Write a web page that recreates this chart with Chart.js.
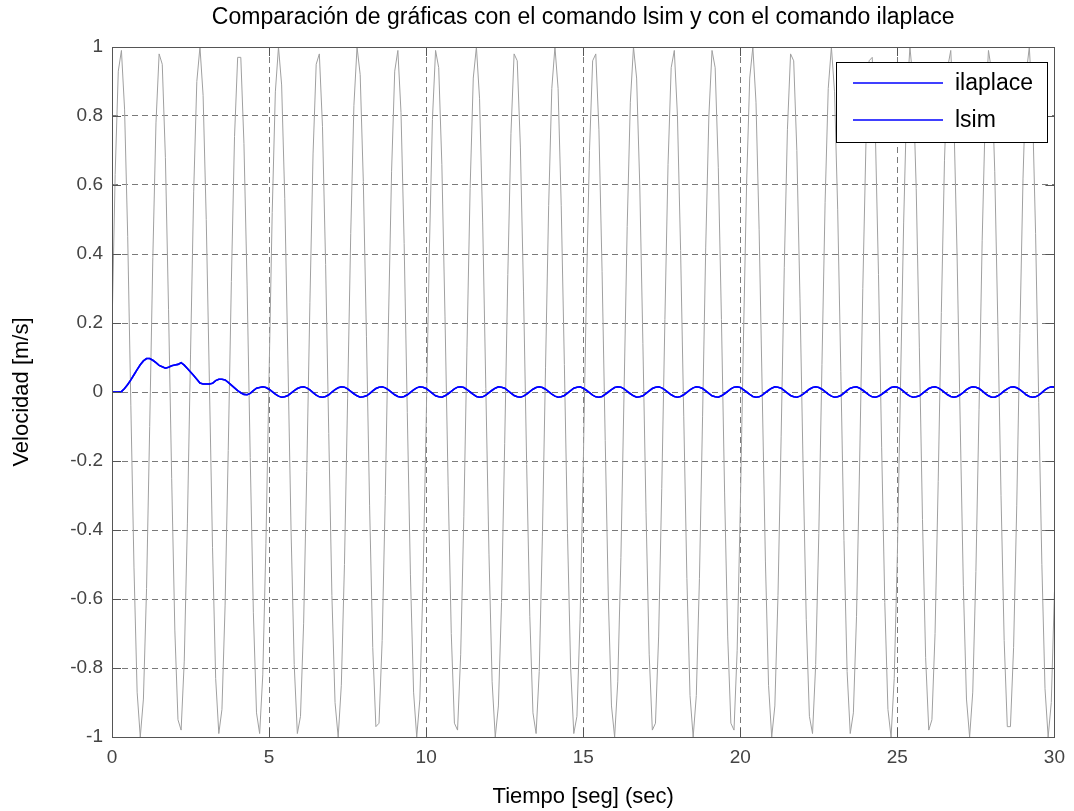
<!DOCTYPE html>
<html>
<head>
<meta charset="utf-8">
<title>Comparación lsim / ilaplace</title>
<script src="https://cdn.jsdelivr.net/npm/chart.js@4.4.1/dist/chart.umd.min.js"></script>
<style>
  html, body { margin: 0; padding: 0; background: #fff; }
  #wrap { position: relative; width: 1074px; height: 811px; }
</style>
</head>
<body>
<div id="wrap"><canvas id="grafica"></canvas></div>
<script>
// --- DATOS ---
const titulo = 'Comparación de gráficas con el comando lsim y con el comando ilaplace';
const ejeX = 'Tiempo [seg] (sec)';
const ejeY = 'Velocidad [m/s]';
const paso = 0.1;                 // muestreo en segundos, t = 0 ... 30
const ticksX = [0, 5, 10, 15, 20, 25, 30];
const ticksY = [-1, -0.8, -0.6, -0.4, -0.2, 0, 0.2, 0.4, 0.6, 0.8, 1];

// entrada (curva gris)
const entrada = [
  0.18, 0.63, 0.93, 0.99, 0.82, 0.45, -0.04, -0.51, -0.87, -1.00,
  -0.89, -0.57, -0.10, 0.39, 0.78, 0.98, 0.95, 0.68, 0.24, -0.25,
  -0.69, -0.95, -0.98, -0.78, -0.38, 0.11, 0.58, 0.90, 1.00, 0.86,
  0.50, 0.03, -0.45, -0.83, -0.99, -0.92, -0.62, -0.17, 0.32, 0.74,
  0.97, 0.97, 0.72, 0.31, -0.19, -0.64, -0.93, -0.99, -0.82, -0.44,
  0.05, 0.52, 0.87, 1.00, 0.89, 0.56, 0.09, -0.40, -0.79, -0.99,
  -0.94, -0.67, -0.23, 0.26, 0.69, 0.95, 0.98, 0.77, 0.37, -0.12,
  -0.59, -0.90, -1.00, -0.85, -0.50, -0.02, 0.46, 0.83, 1.00, 0.92,
  0.61, 0.16, -0.33, -0.74, -0.97, -0.96, -0.72, -0.30, 0.20, 0.64,
  0.93, 0.99, 0.81, 0.43, -0.06, -0.53, -0.87, -1.00, -0.89, -0.55,
  -0.09, 0.40, 0.79, 0.99, 0.94, 0.66, 0.22, -0.27, -0.70, -0.96,
  -0.98, -0.76, -0.36, 0.13, 0.59, 0.91, 1.00, 0.85, 0.49, 0.01,
  -0.47, -0.84, -1.00, -0.91, -0.61, -0.15, 0.34, 0.75, 0.98, 0.96,
  0.71, 0.29, -0.21, -0.65, -0.93, -0.99, -0.81, -0.42, 0.07, 0.54,
  0.88, 1.00, 0.88, 0.54, 0.08, -0.41, -0.80, -0.99, -0.94, -0.66,
  -0.22, 0.28, 0.70, 0.96, 0.98, 0.76, 0.35, -0.14, -0.60, -0.91,
  -1.00, -0.84, -0.48, 0.00, 0.48, 0.84, 1.00, 0.91, 0.60, 0.14,
  -0.35, -0.76, -0.98, -0.96, -0.71, -0.28, 0.21, 0.66, 0.94, 0.99,
  0.80, 0.41, -0.07, -0.54, -0.88, -1.00, -0.88, -0.54, -0.07, 0.42,
  0.80, 0.99, 0.94, 0.65, 0.21, -0.29, -0.71, -0.96, -0.98, -0.75,
  -0.34, 0.15, 0.60, 0.91, 1.00, 0.84, 0.47, -0.01, -0.49, -0.85,
  -1.00, -0.91, -0.59, -0.13, 0.36, 0.76, 0.98, 0.96, 0.70, 0.27,
  -0.22, -0.66, -0.94, -0.99, -0.79, -0.41, 0.08, 0.55, 0.88, 1.00,
  0.87, 0.53, 0.06, -0.43, -0.81, -0.99, -0.93, -0.65, -0.20, 0.30,
  0.72, 0.96, 0.97, 0.75, 0.34, -0.16, -0.61, -0.92, -1.00, -0.83,
  -0.47, 0.02, 0.49, 0.85, 1.00, 0.90, 0.59, 0.13, -0.37, -0.77,
  -0.98, -0.95, -0.70, -0.26, 0.23, 0.67, 0.94, 0.99, 0.79, 0.40,
  -0.09, -0.56, -0.89, -1.00, -0.87, -0.52, -0.05, 0.44, 0.81, 0.99,
  0.93, 0.64, 0.19, -0.30, -0.72, -0.97, -0.97, -0.74, -0.33, 0.17,
  0.62, 0.92, 1.00, 0.83, 0.46, -0.03, -0.50, -0.86, -1.00, -0.90, -0.58
];

// respuesta de velocidad (ilaplace y lsim coinciden)
const velocidad = [
  0, 0, 0, 0.001, 0.010, 0.022, 0.035, 0.050, 0.065, 0.079,
  0.090, 0.097, 0.097, 0.092, 0.085, 0.077, 0.073, 0.069, 0.072, 0.076,
  0.078, 0.080, 0.085, 0.078, 0.068, 0.058, 0.048, 0.037, 0.026, 0.023,
  0.023, 0.023, 0.025, 0.033, 0.037, 0.037, 0.035, 0.028, 0.020, 0.012,
  0.004, -0.002, -0.007, -0.008, -0.004, 0.004, 0.011, 0.013, 0.015, 0.013,
  0.008, 0.001, -0.006, -0.012, -0.015, -0.014, -0.010, -0.003, 0.004, 0.010,
  0.014, 0.015, 0.012, 0.006, -0.002, -0.009, -0.014, -0.015, -0.013, -0.008,
  0.000, 0.007, 0.012, 0.015, 0.014, 0.009, 0.002, -0.005, -0.011, -0.015,
  -0.014, -0.011, -0.005, 0.003, 0.010, 0.014, 0.015, 0.012, 0.006, -0.001,
  -0.008, -0.013, -0.015, -0.013, -0.008, -0.001, 0.006, 0.012, 0.015, 0.014,
  0.010, 0.003, -0.004, -0.011, -0.014, -0.015, -0.011, -0.005, 0.002, 0.009,
  0.014, 0.015, 0.013, 0.007, 0.000, -0.007, -0.013, -0.015, -0.014, -0.009,
  -0.002, 0.005, 0.011, 0.015, 0.014, 0.011, 0.004, -0.003, -0.010, -0.014,
  -0.015, -0.012, -0.006, 0.001, 0.008, 0.013, 0.015, 0.013, 0.008, 0.001,
  -0.006, -0.012, -0.015, -0.014, -0.010, -0.003, 0.004, 0.011, 0.014, 0.015,
  0.011, 0.005, -0.002, -0.009, -0.014, -0.015, -0.013, -0.007, 0.000, 0.007,
  0.013, 0.015, 0.014, 0.009, 0.002, -0.005, -0.011, -0.015, -0.014, -0.011,
  -0.004, 0.003, 0.010, 0.014, 0.015, 0.012, 0.006, -0.001, -0.008, -0.013,
  -0.015, -0.013, -0.008, -0.001, 0.006, 0.012, 0.015, 0.014, 0.010, 0.003,
  -0.004, -0.011, -0.014, -0.015, -0.011, -0.005, 0.002, 0.009, 0.014, 0.015,
  0.013, 0.007, 0.000, -0.007, -0.013, -0.015, -0.014, -0.009, -0.002, 0.005,
  0.011, 0.015, 0.014, 0.011, 0.004, -0.003, -0.010, -0.014, -0.015, -0.012,
  -0.006, 0.001, 0.008, 0.013, 0.015, 0.013, 0.008, 0.001, -0.006, -0.012,
  -0.015, -0.014, -0.010, -0.003, 0.005, 0.011, 0.014, 0.015, 0.011, 0.005,
  -0.002, -0.009, -0.014, -0.015, -0.012, -0.007, 0.000, 0.007, 0.013, 0.015,
  0.014, 0.009, 0.002, -0.006, -0.012, -0.015, -0.014, -0.011, -0.004, 0.003,
  0.010, 0.014, 0.015, 0.012, 0.006, -0.001, -0.008, -0.013, -0.015, -0.013,
  -0.008, -0.001, 0.007, 0.012, 0.015, 0.014, 0.010, 0.003, -0.005, -0.011,
  -0.015, -0.015, -0.011, -0.005, 0.003, 0.009, 0.014, 0.015, 0.012, 0.007,
  0.000, -0.008, -0.013, -0.015, -0.014, -0.009, -0.002, 0.006, 0.012, 0.015, 0.014
];

const FUENTE = "'Liberation Sans', Arial, Helvetica, sans-serif";

// pares (t, y) para el eje lineal
const aPuntos = arr => arr.map((v, i) => ({ x: Math.round(i * paso * 10) / 10, y: v }));

// caja completa + marcas hacia adentro (estilo matlab)
const cajaEjes = {
  id: 'cajaEjes',
  afterDatasetsDraw(chart) {
    const { ctx, chartArea: a, scales } = chart;
    const largo = 9;
    ctx.save();
    ctx.strokeStyle = '#555';
    ctx.lineWidth = 1;
    ctx.beginPath();
    ticksX.forEach(v => {
      const x = Math.round(scales.x.getPixelForValue(v)) + 0.5;
      ctx.moveTo(x, a.top); ctx.lineTo(x, a.top + largo);
      ctx.moveTo(x, a.bottom); ctx.lineTo(x, a.bottom - largo);
    });
    ticksY.forEach(v => {
      const y = Math.round(scales.y.getPixelForValue(v)) + 0.5;
      ctx.moveTo(a.left, y); ctx.lineTo(a.left + largo, y);
      ctx.moveTo(a.right, y); ctx.lineTo(a.right - largo, y);
    });
    ctx.stroke();
    ctx.strokeRect(Math.round(a.left) + 0.5, Math.round(a.top) + 0.5,
                   Math.round(a.right - a.left), Math.round(a.bottom - a.top));
    ctx.restore();
  }
};

// leyenda en recuadro (esquina superior derecha)
const leyenda = {
  id: 'leyenda',
  afterDraw(chart) {
    const { ctx, chartArea: a } = chart;
    const items = chart.data.datasets.filter(d => d.enLeyenda);
    const w = 211, h = 80, fila = 37;
    const x0 = Math.round(a.right - 7 - w), y0 = Math.round(a.top + 15);
    ctx.save();
    ctx.fillStyle = '#fff';
    ctx.fillRect(x0, y0, w, h);
    ctx.strokeStyle = '#000';
    ctx.lineWidth = 1;
    ctx.strokeRect(x0 + 0.5, y0 + 0.5, w, h);
    ctx.font = '23px ' + FUENTE;
    ctx.textBaseline = 'middle';
    items.forEach((d, i) => {
      const y = y0 + 21 + i * fila;
      ctx.strokeStyle = d.borderColor;
      ctx.lineWidth = d.borderWidth;
      ctx.beginPath();
      ctx.moveTo(x0 + 17, y); ctx.lineTo(x0 + 107, y);
      ctx.stroke();
      ctx.fillStyle = '#000';
      ctx.fillText(d.label, x0 + 119, y + 1);
    });
    ctx.restore();
  }
};

new Chart(document.getElementById('grafica'), {
  type: 'line',
  data: {
    datasets: [
      { label: 'ilaplace', data: aPuntos(velocidad), borderColor: '#0000ff', borderWidth: 1.6,
        pointRadius: 0, tension: 0, order: 0, enLeyenda: true },
      { label: 'lsim', data: aPuntos(velocidad), borderColor: '#0000ff', borderWidth: 1.6,
        pointRadius: 0, tension: 0, order: 1, enLeyenda: true },
      { label: 'entrada', data: aPuntos(entrada), borderColor: '#a0a0a0', borderWidth: 1,
        pointRadius: 0, tension: 0, order: 2, enLeyenda: false }
    ]
  },
  options: {
    responsive: true,
    maintainAspectRatio: false,
    animation: false,
    events: [],
    layout: { padding: { left: 0, right: 16, top: 0, bottom: 0 } },
    plugins: {
      legend: { display: false },
      tooltip: { enabled: false },
      title: {
        display: true, text: titulo, color: '#000', fullSize: false,
        font: { family: FUENTE, size: 23, weight: 'normal' },
        padding: { top: 4, bottom: 15.4 }
      }
    },
    scales: {
      x: {
        type: 'linear', min: 0, max: 30,
        afterFit: s => { s.height = 74; },
        afterBuildTicks: s => { s.ticks = ticksX.map(v => ({ value: v })); },
        ticks: { color: '#444', padding: 9, font: { family: FUENTE, size: 19 } },
        grid: { color: '#7a7a7a', lineWidth: 1, drawTicks: false },
        border: { display: false, dash: [6, 4] },
        title: { display: true, text: ejeX, color: '#000', padding: { top: 0, bottom: 1 },
                 font: { family: FUENTE, size: 22 } }
      },
      y: {
        type: 'linear', min: -1, max: 1,
        afterFit: s => { s.width = 112; },
        afterBuildTicks: s => { s.ticks = ticksY.map(v => ({ value: v })); },
        ticks: { color: '#444', padding: 9, font: { family: FUENTE, size: 19 },
                 callback: v => String(+v.toFixed(1)) },
        grid: { color: '#7a7a7a', lineWidth: 1, drawTicks: false },
        border: { display: false, dash: [6, 4] },
        title: { display: true, text: ejeY, color: '#000', padding: { top: 9, bottom: 0 },
                 font: { family: FUENTE, size: 22 } }
      }
    }
  },
  plugins: [cajaEjes, leyenda]
});
</script>
</body>
</html>
